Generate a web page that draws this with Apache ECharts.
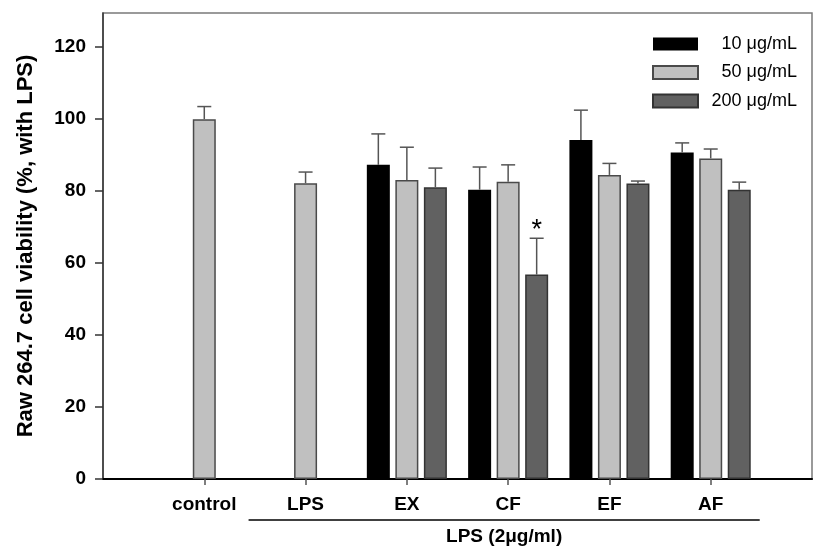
<!DOCTYPE html>
<html><head><meta charset="utf-8">
<script src="https://cdn.jsdelivr.net/npm/echarts@6/dist/echarts.min.js"></script>
<style>html,body{margin:0;padding:0;background:#fff}#c{width:827px;height:551px}</style>
</head><body><div id="c"></div>
<script>
// ---- data ----
const categories = ['', 'control', 'LPS', 'EX', 'CF', 'EF', 'AF', ''];
const seriesNames = ['10 \u03bcg/mL', '50 \u03bcg/mL', '200 \u03bcg/mL'];
const mean10  = [null, null, null, 87.3, 80.4, 94.2, 90.7, null];
const err10   = [null, null, null, 8.6, 6.3, 8.3, 2.7, null];
const mean50  = [null, 100.0, 82.2, 83.1, 82.6, 84.5, 89.1, null];
const err50   = [null, 3.5, 3.1, 9.1, 4.7, 3.2, 2.6, null];
const mean200 = [null, null, null, 81.1, 56.8, 82.1, 80.4, null];
const err200  = [null, null, null, 5.3, 10.1, 0.7, 2.1, null];
const sig200  = ['', '', '', '', '*', '', '', ''];
const yTicks  = [0, 20, 40, 60, 80, 100, 120];
const groupLabel = 'LPS (2\u03bcg/ml)';
const yTitle = 'Raw 264.7 cell viability (%, with LPS)';

// ---- styling ----
const FONT = 'Arial, "Liberation Sans", sans-serif';
const BAR_W = 23, BAR_GAP = 0.24, PITCH = BAR_W * (1 + BAR_GAP);
const colors = ['#000000', '#c0c0c0', '#616161'];
const borders = ['#000000', '#4a4a4a', '#333333'];

const chart = echarts.init(document.getElementById('c'), null, {renderer: 'canvas'});

function barSeries(k, means) {
  return {
    name: seriesNames[k], type: 'bar', barWidth: BAR_W, barGap: (BAR_GAP * 100) + '%',
    data: means.map(v => v == null ? '-' : v),
    itemStyle: {color: colors[k], borderColor: borders[k], borderWidth: k === 0 ? 0 : 1.5},
    emphasis: {disabled: true}, silent: true, z: 2
  };
}
function errSeries(k, means, errs, sigs) {
  const offset = (k - 1) * PITCH;
  const data = [];
  means.forEach((m, i) => { if (m != null) data.push([i, m, errs[i], sigs ? (sigs[i] ? 1 : 0) : 0]); });
  return {
    type: 'custom', silent: true, z: 3, data: data, encode: {x: 0, y: 1},
    renderItem: function (params, api) {
      const i = api.value(0), m = api.value(1), e = api.value(2), s = api.value(3);
      const base = api.coord([i, m]);
      const top = api.coord([i, m + e]);
      const x = base[0] + offset;
      const st = {stroke: '#555', lineWidth: 1.5};
      const ch = [
        {type: 'line', shape: {x1: x, y1: base[1], x2: x, y2: top[1]}, style: st},
        {type: 'line', shape: {x1: x - 7, y1: top[1], x2: x + 7, y2: top[1]}, style: st}
      ];
      if (s) ch.push({type: 'text', style: {text: '*', x: x, y: top[1] - 8, fontSize: 27,
        fontFamily: FONT, fill: '#000', align: 'center', verticalAlign: 'middle'}});
      return {type: 'group', children: ch};
    }
  };
}

chart.setOption({
  animation: false,
  backgroundColor: '#fff',
  grid: {left: 103, right: 15, top: 13, bottom: 72, show: true, borderColor: '#7a7a7a', borderWidth: 1.5, backgroundColor: 'transparent'},
  legend: {
    data: seriesNames, orient: 'vertical', left: 647, top: 30, icon: 'rect',
    itemWidth: 45, itemHeight: 13, itemGap: 10.5, selectedMode: false,
    formatter: n => '{r|' + n + '}',
    textStyle: {fontSize: 18, fontFamily: FONT, color: '#000', lineHeight: 14,
      rich: {r: {width: 94, align: 'right', fontSize: 18, fontFamily: FONT, lineHeight: 14, color: '#000'}}}
  },
  xAxis: {
    type: 'category', data: categories, boundaryGap: false,
    axisLine: {lineStyle: {color: '#000', width: 2}},
    axisTick: {show: true, length: 6, interval: (i) => i > 0 && i < categories.length - 1, lineStyle: {color: '#555', width: 1.5}},
    axisLabel: {interval: 0, margin: 16, fontSize: 19, fontWeight: 'bold', fontFamily: FONT, color: '#000'},
    splitLine: {show: false}
  },
  yAxis: {
    type: 'value', min: 0, max: 129.5, interval: 20,
    name: yTitle, nameLocation: 'middle', nameGap: 66,
    nameTextStyle: {fontSize: 22, fontWeight: 'bold', fontFamily: FONT, color: '#000'},
    axisLine: {show: true, lineStyle: {color: '#333', width: 1.5}},
    axisTick: {show: true, length: 8, customValues: yTicks, lineStyle: {color: '#333', width: 1.5}},
    axisLabel: {customValues: yTicks, margin: 17, fontSize: 19, fontWeight: 'bold', fontFamily: FONT, color: '#000'},
    splitLine: {show: false}
  },
  series: [
    barSeries(0, mean10), barSeries(1, mean50), barSeries(2, mean200),
    errSeries(0, mean10, err10), errSeries(1, mean50, err50), errSeries(2, mean200, err200, sig200)
  ]
});

// group underline + label under LPS..AF
const xL = chart.convertToPixel({xAxisIndex: 0}, 'LPS');
const xR = chart.convertToPixel({xAxisIndex: 0}, 'AF');
const y0 = chart.convertToPixel({yAxisIndex: 0}, 0);
const x1 = xL - 57, x2 = xR + 49;
chart.setOption({
  graphic: [
    {type: 'line', shape: {x1: x1, y1: y0 + 41, x2: x2, y2: y0 + 41}, style: {stroke: '#000', lineWidth: 1.5}, silent: true},
    {type: 'text', x: (x1 + x2) / 2, y: y0 + 58, style: {text: groupLabel, fontSize: 19, fontWeight: 'bold',
      fontFamily: FONT, fill: '#000', align: 'center', verticalAlign: 'middle'}, silent: true}
  ]
});
</script>
</body></html>
